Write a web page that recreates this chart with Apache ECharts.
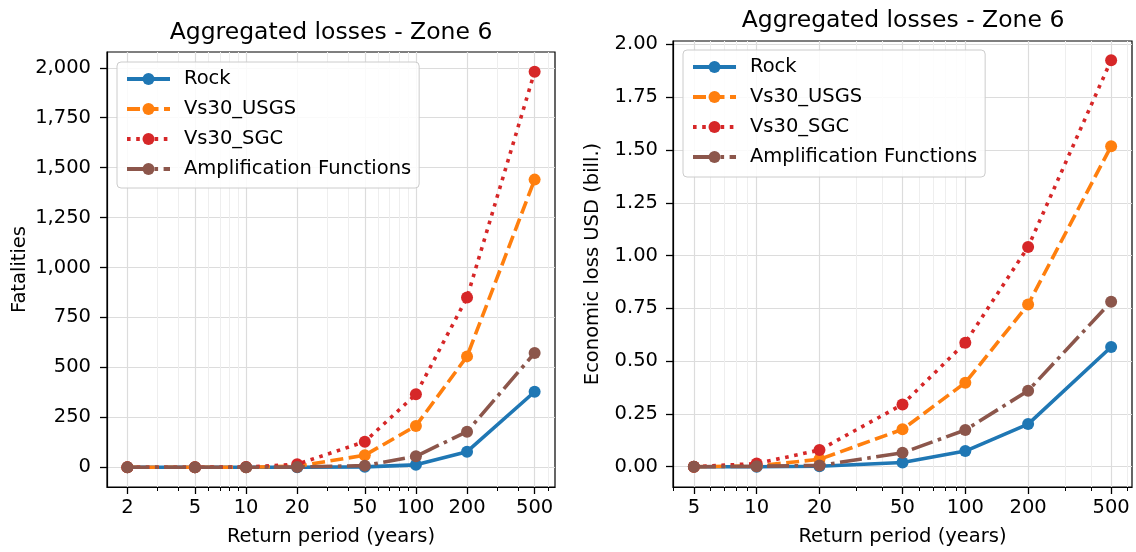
<!DOCTYPE html>
<html>
<head>
<meta charset="utf-8">
<script src="https://cdn.jsdelivr.net/npm/echarts@6/dist/echarts.min.js"></script>
<style>html,body{margin:0;padding:0;background:#fff}#c{width:1136px;height:552px}</style>
</head>
<body>
<div id="c"></div>
<script>
// ---------- data ----------
const seriesNames = ['Rock', 'Vs30_USGS', 'Vs30_SGC', 'Amplification Functions'];
const periodsFat = [2, 5, 10, 20, 50, 100, 200, 500];
const fatRock = [0, 0, 0, 0, 2, 12, 78, 378];
const fatUSGS = [0, 0, 0, 5, 60, 207, 555, 1440];
const fatSGC  = [0, 0, 1, 15, 128, 365, 850, 1980];
const fatAmp  = [0, 0, 0, 1, 8, 55, 178, 572];

const periodsEco = [5, 10, 20, 50, 100, 200, 500];
const ecoRock = [0, 0, 0.002, 0.02, 0.074, 0.202, 0.567];
const ecoUSGS = [0, 0.004, 0.035, 0.177, 0.398, 0.768, 1.518];
const ecoSGC  = [0, 0.015, 0.079, 0.295, 0.587, 1.041, 1.925];
const ecoAmp  = [0, 0.002, 0.006, 0.066, 0.174, 0.36, 0.781];

const xTicksFat = [2, 5, 10, 20, 50, 100, 200, 500];
const xMinorFat = [3, 4, 6, 7, 8, 9, 30, 40, 60, 70, 80, 90, 300, 400, 600];
const xTicksEco = [5, 10, 20, 50, 100, 200, 500];
const xMinorEco = [4, 6, 7, 8, 9, 30, 40, 60, 70, 80, 90, 300, 400, 600];
const yTicksFat = [0, 250, 500, 750, 1000, 1250, 1500, 1750, 2000];
const yTicksEco = [0, 0.25, 0.5, 0.75, 1.0, 1.25, 1.5, 1.75, 2.0];

// ---------- style ----------
const FONT = 'DejaVu Sans';
const FS = 19.5;
const colors = ['#1f77b4', '#ff7f0e', '#d62728', '#8c564b'];
const LW = 3.6;
const dashes = ['solid', [13, 5.5], [3.6, 5.6], [22, 5.5, 3.6, 5.5]];

function pairs(xs, ys) { return xs.map((x, i) => [x, ys[i]]); }

function makeSeries(xs, arrays, axisIdx) {
  return arrays.map((arr, i) => ({
    name: seriesNames[i],
    type: 'line',
    xAxisIndex: axisIdx,
    yAxisIndex: axisIdx / 2,
    data: pairs(xs, arr),
    symbol: 'circle',
    symbolSize: 12,
    showAllSymbol: true,
    color: colors[i],
    lineStyle: { width: LW, type: dashes[i], color: colors[i], cap: 'butt' },
    itemStyle: { color: colors[i] },
    emphasis: { disabled: true },
    animation: false,
    z: 3 + i
  }));
}

function fmtX(v) { return String(Math.round(v)); }

function xAxes(gridIndex, min, max, majors, minors) {
  return [
    {
      type: 'log', gridIndex, min, max, logBase: 10,
      name: 'Return period (years)', nameLocation: 'middle', nameGap: 40,
      nameTextStyle: { fontFamily: FONT, fontSize: FS, color: '#000' },
      axisLine: { show: true, onZero: false, lineStyle: { color: '#000', width: 1.2 } },
      axisTick: { show: true, customValues: majors, length: 7, lineStyle: { color: '#000', width: 1.3 } },
      axisLabel: { show: true, customValues: majors, margin: 11, formatter: fmtX,
        fontFamily: FONT, fontSize: FS, color: '#000' },
      splitLine: { show: true, lineStyle: { color: '#dcdcdc', width: 1.2 } },
      minorTick: { show: false }, minorSplitLine: { show: false }
    },
    {
      type: 'log', gridIndex, min, max, logBase: 10, position: 'bottom',
      axisLine: { show: false, onZero: false },
      axisTick: { show: true, customValues: minors, length: 4, lineStyle: { color: '#000', width: 1 } },
      axisLabel: { show: false },
      splitLine: { show: true, lineStyle: { color: '#eeeeee', width: 1 } },
      minorTick: { show: false }, minorSplitLine: { show: false }
    }
  ];
}

function yAxis(gridIndex, min, max, ticks, name, nameGap, fmt, margin) {
  return {
    type: 'value', gridIndex, min, max,
    name, nameLocation: 'middle', nameGap, nameRotate: 90,
    nameTextStyle: { fontFamily: FONT, fontSize: FS, color: '#000' },
    axisLine: { show: true, onZero: false, lineStyle: { color: '#000', width: 1.2 } },
    axisTick: { show: true, customValues: ticks, length: 7, lineStyle: { color: '#000', width: 1.3 } },
    axisLabel: { show: true, customValues: ticks, formatter: fmt, margin,
      fontFamily: FONT, fontSize: FS, color: '#000' },
    splitLine: { show: true, lineStyle: { color: '#dcdcdc', width: 1.2 } }
  };
}

function legend(left, top, padding) {
  return {
    left, top, orient: 'vertical', padding,
    data: seriesNames,
    itemWidth: 43, itemHeight: 15, itemGap: 10,
    lineStyle: { width: 4 },
    backgroundColor: 'rgba(255,255,255,0.85)',
    borderColor: '#cccccc', borderWidth: 1, borderRadius: 4,
    textStyle: { fontFamily: FONT, fontSize: FS, color: '#000', lineHeight: 20, padding: [0, 0, 0, 9] },
    selectedMode: false
  };
}

const chart = echarts.init(document.getElementById('c'), null, { renderer: 'canvas' });
chart.setOption({
  animation: false,
  backgroundColor: '#fff',
  title: [
    { text: 'Aggregated losses - Zone 6', left: 331, top: 21, textAlign: 'center', padding: 0,
      textStyle: { fontFamily: FONT, fontSize: 23.5, fontWeight: 'normal', color: '#000' } },
    { text: 'Aggregated losses - Zone 6', left: 903, top: 9, textAlign: 'center', padding: 0,
      textStyle: { fontFamily: FONT, fontSize: 23.5, fontWeight: 'normal', color: '#000' } }
  ],
  grid: [
    { left: 107, right: 581, top: 52, bottom: 64, show: true, borderColor: '#000', borderWidth: 1.2, backgroundColor: 'transparent' },
    { left: 673, right: 4, top: 41, bottom: 65, show: true, borderColor: '#000', borderWidth: 1.2, backgroundColor: 'transparent' }
  ],
  legend: [legend(117, 62, [7, 8, 9, 8]), legend(683, 50, [7, 8, 10, 8])],
  xAxis: [
    ...xAxes(0, 2 / Math.pow(10, 0.12), 500 * Math.pow(10, 0.12), xTicksFat, xMinorFat),
    ...xAxes(1, 5 / Math.pow(10, 0.1), 500 * Math.pow(10, 0.1), xTicksEco, xMinorEco)
  ],
  yAxis: [
    yAxis(0, -99, 2079, yTicksFat, 'Fatalities', 77, v => Math.round(v).toLocaleString('en-US'), 16),
    yAxis(1, -0.096, 2.016, yTicksEco, 'Economic loss USD (bill.)', 70, v => v.toFixed(2), 15)
  ],
  series: [
    ...makeSeries(periodsFat, [fatRock, fatUSGS, fatSGC, fatAmp], 0),
    ...makeSeries(periodsEco, [ecoRock, ecoUSGS, ecoSGC, ecoAmp], 2)
  ]
});
</script>
</body>
</html>
